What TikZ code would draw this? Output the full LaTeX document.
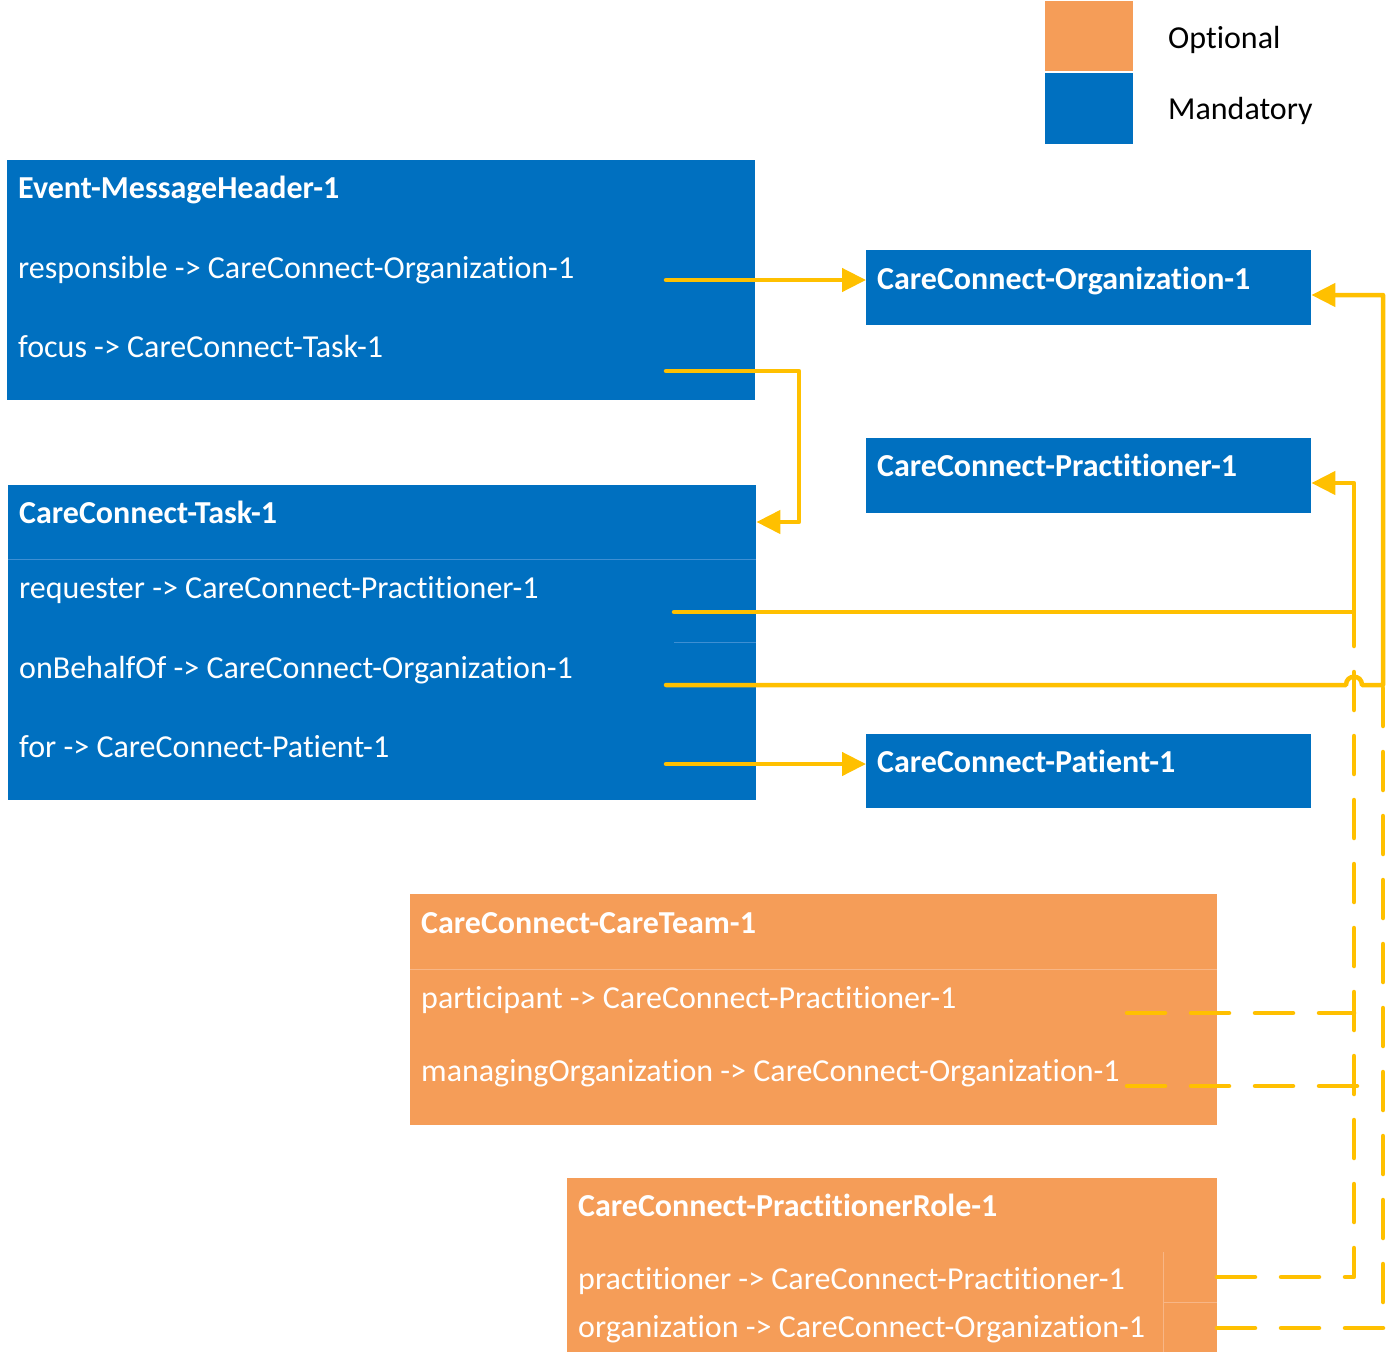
\documentclass[tikz,border=0pt]{standalone}
\usepackage{fontspec}
\setmainfont{Carlito}[Ligatures={NoCommon,NoContextual}]
\usetikzlibrary{arrows.meta}

\definecolor{mandblue}{HTML}{0070C0}
\definecolor{optorange}{HTML}{F59D58}
\definecolor{linkgold}{HTML}{FFC000}
\definecolor{bluesep}{HTML}{3E8FD3}
\definecolor{orangesep}{HTML}{F8B686}

\tikzset{
  mbox/.style={fill=mandblue, draw=none, inner sep=0pt, anchor=north west},
  obox/.style={fill=optorange, draw=none, inner sep=0pt, anchor=north west},
  txt/.style={text=white, inner sep=0pt, anchor=base west,
              font=\fontsize{32}{36}\selectfont},
  ttl/.style={txt, font=\fontsize{32}{36}\selectfont\bfseries},
  legendtxt/.style={text=black, inner sep=0pt, anchor=base west,
              font=\fontsize{32}{36}\selectfont},
  link/.style={draw=linkgold, line width=4.5pt, line cap=round, line join=round},
  linkarrow/.style={link, -{Triangle[length=24pt, width=23pt]}},
  optlink/.style={link, dash pattern=on 38pt off 26pt},
  bsep/.style={draw=bluesep, line width=1pt},
  osep/.style={draw=orangesep, line width=1pt},
}

\begin{document}
\begin{tikzpicture}[x=1pt, y=-1pt]
\useasboundingbox (0,0) rectangle (1387,1363);

% legend
\node[obox, minimum width=88pt, minimum height=70pt] (legopt) at (1045,1) {};
\node[mbox, minimum width=88pt, minimum height=71pt] (legman) at (1045,73) {};
\node[legendtxt] (legopttxt) at (1168,48) {Optional};
\node[legendtxt] (legmantxt) at (1168,119) {Mandatory};

% message header
\node[mbox, minimum width=748pt, minimum height=240pt] (hdr) at (7,160) {};
\node[ttl] (hdrT) at (18,198) {Event-MessageHeader-1};
\node[txt] (hdrA) at (18,278) {responsible -> CareConnect-Organization-1};
\node[txt] (hdrB) at (18,357) {focus -> CareConnect-Task-1};

% task
\node[mbox, minimum width=748pt, minimum height=315pt] (task) at (8,485) {};
\draw[bsep] (8,559) -- (756,559);
\draw[bsep] (674,642) -- (756,642);
\node[ttl] (taskT) at (19,523) {CareConnect-Task-1};
\node[txt] (taskA) at (19,598) {requester -> CareConnect-Practitioner-1};
\node[txt] (taskB) at (19,678) {onBehalfOf -> CareConnect-Organization-1};
\node[txt] (taskC) at (19,757) {for -> CareConnect-Patient-1};

% referenced resources
\node[mbox, minimum width=445pt, minimum height=75pt] (org) at (866,250) {};
\node[ttl] (orgT) at (877,289) {CareConnect-Organization-1};
\node[mbox, minimum width=445pt, minimum height=75pt] (prac) at (866,438) {};
\node[ttl] (pracT) at (877,476) {CareConnect-Practitioner-1};
\node[mbox, minimum width=445pt, minimum height=74pt] (pat) at (866,734) {};
\node[ttl] (patT) at (877,772) {CareConnect-Patient-1};

% care team
\node[obox, minimum width=807pt, minimum height=231pt] (team) at (410,894) {};
\draw[osep] (410,969) -- (1217,969);
\node[ttl] (teamT) at (421,933) {CareConnect-CareTeam-1};
\node[txt] (teamA) at (421,1008) {participant -> CareConnect-Practitioner-1};
\node[txt] (teamB) at (421,1081) {managingOrganization -> CareConnect-Organization-1};

% practitioner role
\node[obox, minimum width=650pt, minimum height=174pt] (role) at (567,1178) {};
\draw[osep] (1163,1252) -- (1163,1352);
\draw[osep] (1163,1302) -- (1217,1302);
\node[ttl] (roleT) at (578,1216) {CareConnect-PractitionerRole-1};
\node[txt] (roleA) at (578,1289) {practitioner -> CareConnect-Practitioner-1};
\node[txt] (roleB) at (578,1337) {organization -> CareConnect-Organization-1};

% connector anchors
\coordinate (respOut) at (666,280);
\coordinate (focusOut) at (666,371);
\coordinate (reqOut) at (674,612);
\coordinate (behalfOut) at (666,685);
\coordinate (forOut) at (666,764);
\coordinate (partOut) at (1127,1013);
\coordinate (mgmtOut) at (1127,1086);
\coordinate (rolePracOut) at (1217,1277);
\coordinate (roleOrgOut) at (1217,1328);
\coordinate (pracJoin) at (1354,612);
\coordinate (orgJoin) at (1383,685);

% optional references (dashed), joining the solid trunks
\draw[optlink] (rolePracOut) -- (1354,1277) -- (pracJoin);
\draw[optlink] (partOut) -- (1354,1013);
\draw[optlink] (roleOrgOut) -- (1383,1328) -- (orgJoin);
\draw[optlink] (mgmtOut) -- (1383,1086);

% mandatory references
\draw[linkarrow] (respOut) -- (org.west |- respOut);
\draw[linkarrow] (focusOut) -- (799,371) -- (799,522) -- (task.east |- 0,522);
\draw[linkarrow] (reqOut) -- (1354,612) -- (1354,483) -- (prac.east |- 0,483);
\draw[linkarrow] (behalfOut) -- (1346,685)
  .. controls (1346,674) and (1362,674) .. (1362,685)
  -- (orgJoin) -- (1383,295) -- (org.east |- 0,295);
\draw[linkarrow] (forOut) -- (pat.west |- forOut);
\end{tikzpicture}
\end{document}
